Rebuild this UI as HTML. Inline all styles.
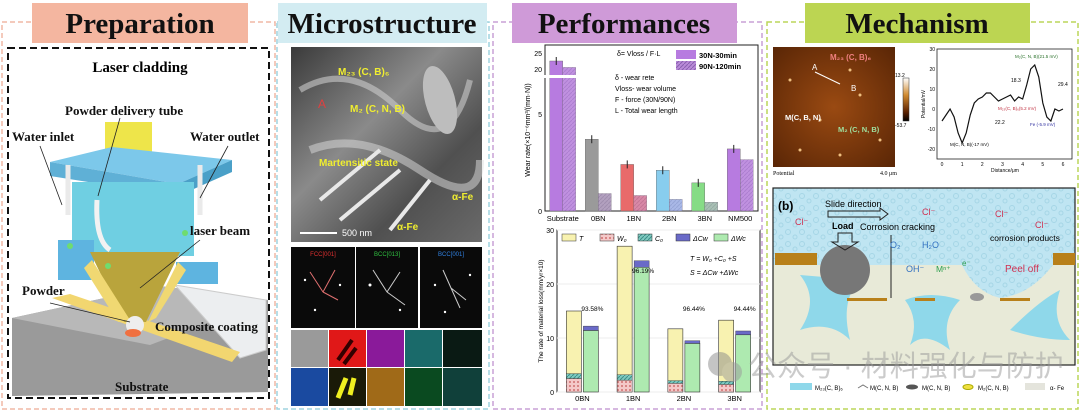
<!DOCTYPE html>
<html><head><meta charset="utf-8"><style>
html,body{margin:0;padding:0;background:#fff;}
svg{display:block;font-family:"Liberation Sans",sans-serif;}
.ser{font-family:"Liberation Serif",serif;font-weight:bold;}
</style></head><body>
<svg id="root" width="1080" height="411" viewBox="0 0 1080 411">
<defs>
<pattern id="hatch" width="4" height="4" patternUnits="userSpaceOnUse"><rect width="4" height="4" fill="#b98bd8"/><path d="M0 4L4 0" stroke="#8a5fb0" stroke-width="1"/></pattern>
<pattern id="dots" width="4" height="4" patternUnits="userSpaceOnUse"><rect width="4" height="4" fill="#f4c8c8"/><circle cx="2" cy="2" r="1" fill="#d07070"/></pattern>
<pattern id="teal" width="4" height="4" patternUnits="userSpaceOnUse"><rect width="4" height="4" fill="#7fc9c0"/><path d="M0 4L4 0" stroke="#3d8f88" stroke-width="1"/></pattern>
<pattern id="bubble" width="14" height="12" patternUnits="userSpaceOnUse"><rect width="14" height="12" fill="#bfe5f2"/><circle cx="4" cy="4" r="2.5" fill="none" stroke="#a6d6e6" stroke-width="1"/><circle cx="11" cy="9" r="2" fill="none" stroke="#a6d6e6" stroke-width="1"/></pattern>
<radialGradient id="afm" cx="50%" cy="50%" r="70%"><stop offset="0" stop-color="#9a4a12"/><stop offset="1" stop-color="#5a2606"/></radialGradient>
<linearGradient id="cbar" x1="0" y1="0" x2="0" y2="1"><stop offset="0" stop-color="#fff"/><stop offset="0.4" stop-color="#d08a30"/><stop offset="0.8" stop-color="#5a2000"/><stop offset="1" stop-color="#000"/></linearGradient>
<linearGradient id="tem" x1="0" y1="0" x2="1" y2="1"><stop offset="0" stop-color="#3a3a3a"/><stop offset="0.4" stop-color="#8a8a8a"/><stop offset="0.7" stop-color="#505050"/><stop offset="1" stop-color="#6a6a6a"/></linearGradient>
</defs>

<rect x="2" y="22" width="273" height="387" fill="none" stroke="#f0b9a6" stroke-width="1.5" stroke-dasharray="5,3"/>
<rect x="277" y="22" width="212" height="387" fill="none" stroke="#9fd3df" stroke-width="1.5" stroke-dasharray="5,3"/>
<rect x="493" y="22" width="269" height="387" fill="none" stroke="#c9a0d6" stroke-width="1.5" stroke-dasharray="5,3"/>
<rect x="767" y="22" width="311" height="387" fill="none" stroke="#bcd55a" stroke-width="1.5" stroke-dasharray="5,3"/>

<g><rect x="32" y="3" width="216" height="40" fill="#f4b6a0"/><text class="ser" x="140" y="33" font-size="29" text-anchor="middle" fill="#111">Preparation</text></g>
<g><rect x="278" y="3" width="209" height="40" fill="#d3ecf2"/><text class="ser" x="382" y="33" font-size="29" text-anchor="middle" fill="#111">Microstructure</text></g>
<g><rect x="512" y="3" width="225" height="40" fill="#cf9ad8"/><text class="ser" x="624" y="33" font-size="29" text-anchor="middle" fill="#111">Performances</text></g>
<g><rect x="805" y="3" width="225" height="40" fill="#bcd552"/><text class="ser" x="917" y="33" font-size="29" text-anchor="middle" fill="#111">Mechanism</text></g>

<g>
<rect x="8" y="48" width="261" height="350" fill="#fff" stroke="#111" stroke-width="2" stroke-dasharray="7,4"/>
<text class="ser" x="140" y="72" font-size="15" text-anchor="middle">Laser cladding</text>
<polygon points="12,318 160,286 268,300 268,392 12,396" fill="#9a9a9a"/>
<polygon points="12,318 160,286 268,300 150,345" fill="#b8b8b8"/>
<polygon points="175,285 266,300 266,350 240,358" fill="#eceef0" stroke="#ccc"/>
<polygon points="52,298 70,294 240,352 232,362" fill="#f2d670"/>
<rect x="105" y="122" width="47" height="36" fill="#eee54a"/>
<polygon points="50,162 112,147 232,160 178,184" fill="#7cc8ea"/>
<polygon points="50,162 178,184 178,196 50,176" fill="#5fb0d6"/>
<polygon points="178,184 232,160 232,172 178,196" fill="#4aa0c8"/>
<rect x="72" y="182" width="122" height="74" fill="#6fcfe2"/>
<rect x="58" y="240" width="36" height="40" fill="#5eb4e0"/>
<rect x="176" y="262" width="42" height="22" fill="#5eb4e0"/>
<polygon points="90,252 180,252 146,322 124,322" fill="#b9a43c"/>
<polygon points="92,260 130,320 118,322 84,268" fill="#f0d872"/>
<polygon points="178,262 148,322 156,318 186,270" fill="#f0d872"/>
<circle cx="135" cy="325" r="9" fill="#eeeeee"/>
<ellipse cx="133" cy="333" rx="8" ry="4" fill="#f07040"/>
<path d="M68 215 V165" stroke="#eaeaea" stroke-width="5"/><path d="M200 215 V165" stroke="#eaeaea" stroke-width="5"/>
<path d="M97 200 Q95 240 110 250" stroke="#f2f2f2" stroke-width="5" fill="none"/>
<circle cx="70" cy="246" r="3" fill="#6fdc6f"/><circle cx="185" cy="233" r="3" fill="#6fdc6f"/><circle cx="108" cy="266" r="3" fill="#6fdc6f"/>
<g class="ser" font-size="13" fill="#111">
<text x="65" y="115">Powder delivery tube</text>
<text x="12" y="141">Water inlet</text>
<text x="190" y="141">Water outlet</text>
<text x="190" y="235">laser beam</text>
<text x="22" y="295">Powder</text>
<text x="155" y="331">Composite coating</text>
<text x="115" y="391">Substrate</text>
</g>
<g stroke="#222" stroke-width="0.8" fill="none">
<line x1="120" y1="118" x2="98" y2="196"/><line x1="40" y1="146" x2="62" y2="205"/><line x1="228" y1="146" x2="200" y2="198"/><line x1="200" y1="240" x2="140" y2="288"/><line x1="50" y1="303" x2="130" y2="322"/>
</g>
</g>

<g>
<rect x="291" y="47" width="191" height="195" fill="url(#tem)"/>
<path d="M300 90 Q350 60 400 110 T470 80" stroke="#ccc" stroke-width="6" fill="none" opacity=".6"/>
<path d="M310 150 Q360 130 420 170 T480 160" stroke="#ddd" stroke-width="8" fill="none" opacity=".5"/>
<ellipse cx="440" cy="100" rx="15" ry="35" fill="#bdbdbd" transform="rotate(-15 440 100)"/>
<path d="M320 200 L380 150 M340 220 L400 170 M390 230 L430 180" stroke="#e8e8e8" stroke-width="4"/>
<g font-size="10" fill="#f0ee30" font-weight="bold">
<text x="338" y="75">M₂₃ (C, B)₆</text><text x="350" y="112">M₂ (C, N, B)</text><text x="319" y="166">Martensitic state</text><text x="452" y="200">α-Fe</text><text x="397" y="230">α-Fe</text>
</g>
<text x="318" y="108" font-size="12" fill="#e04040">A</text>
<line x1="300" y1="233" x2="337" y2="233" stroke="#fff" stroke-width="2"/><text x="342" y="236" font-size="9" fill="#fff">500 nm</text>
</g>
<g>
<rect x="291" y="247" width="64" height="81" fill="#0a0a0a"/><rect x="356" y="247" width="62" height="81" fill="#0a0a0a"/><rect x="420" y="247" width="62" height="81" fill="#0a0a0a"/>
<text x="323" y="256" font-size="6" fill="#e03030" text-anchor="middle">FCC[001]</text>
<text x="387" y="256" font-size="6" fill="#30c040" text-anchor="middle">BCC[013]</text>
<text x="451" y="256" font-size="6" fill="#3080e0" text-anchor="middle">BCC[001]</text>
<path d="M323 292 L310 272 M323 292 L335 270 M323 292 L338 300" stroke="#e07070"/>
<path d="M387 292 L373 270 M387 292 L400 272 M387 292 L405 305" stroke="#ccc"/>
<path d="M451 288 L443 270 M451 288 L466 300 M451 288 L460 308" stroke="#ccc"/>
<g fill="#fff"><circle cx="305" cy="280" r="1.2"/><circle cx="340" cy="285" r="1.2"/><circle cx="315" cy="310" r="1.2"/><circle cx="370" cy="285" r="1.5"/><circle cx="400" cy="310" r="1.2"/><circle cx="435" cy="285" r="1.2"/><circle cx="470" cy="275" r="1.2"/><circle cx="445" cy="312" r="1.2"/></g>
</g>
<g>
<rect x="291" y="330" width="37" height="37" fill="#9a9a9a"/><rect x="329" y="330" width="37" height="37" fill="#e01818"/><rect x="367" y="330" width="37" height="37" fill="#8a1a9a"/><rect x="405" y="330" width="37" height="37" fill="#1a6a6a"/><rect x="443" y="330" width="39" height="37" fill="#0a1a14"/>
<rect x="291" y="368" width="37" height="38" fill="#1a4aa0"/><rect x="329" y="368" width="37" height="38" fill="#1a1a08"/><rect x="367" y="368" width="37" height="38" fill="#a06a18"/><rect x="405" y="368" width="37" height="38" fill="#0a4a20"/><rect x="443" y="368" width="39" height="38" fill="#10403a"/>
<path d="M338 360 L352 340 M344 364 L356 348" stroke="#300" stroke-width="4"/><path d="M338 398 L346 378 M350 395 L354 378" stroke="#f0f020" stroke-width="5"/>
</g>

<g id="wearChart"></g>
<g id="lossChart"></g>

<g>
<rect x="773" y="47" width="122" height="120" fill="url(#afm)"/>
<g fill="#f0c080"><circle cx="790" cy="80" r="1.5"/><circle cx="820" cy="120" r="1.5"/><circle cx="860" cy="95" r="1.5"/><circle cx="880" cy="140" r="1.5"/><circle cx="800" cy="150" r="1.5"/><circle cx="850" cy="70" r="1.5"/><circle cx="840" cy="155" r="1.5"/></g>
<line x1="815" y1="72" x2="840" y2="84" stroke="#fff"/>
<text x="812" y="70" font-size="8" fill="#fff">A</text><text x="851" y="91" font-size="8" fill="#fff">B</text>
<text x="830" y="60" font-size="8" fill="#f08080" font-weight="bold">M₂₃ (C, B)₆</text>
<text x="785" y="120" font-size="7.5" fill="#fff" font-weight="bold">M(C, B, N)</text>
<text x="838" y="132" font-size="7.5" fill="#9fe09f" font-weight="bold">M₂ (C, N, B)</text>
<text x="773" y="175" font-size="6" font-family="Liberation Serif">Potential</text><text x="880" y="175" font-size="6" font-family="Liberation Serif">4.0 μm</text>
<rect x="903" y="78" width="6" height="43" fill="url(#cbar)" stroke="#333" stroke-width=".5"/>
<text x="895" y="77" font-size="5">13.2</text><text x="895" y="127" font-size="5">-53.7</text>
</g>
<g id="potChart"></g>

<g>
<rect x="773" y="188" width="302" height="77" fill="url(#bubble)"/>
<rect x="773" y="265" width="302" height="100" fill="#e8ead8"/>
<rect x="773" y="188" width="302" height="177" fill="none" stroke="#222" stroke-width="1.2"/>
<rect x="775" y="253" width="42" height="12" fill="#b8801a"/><rect x="1053" y="253" width="22" height="12" fill="#b8801a"/>
<path d="M800 275 Q820 300 800 330 Q830 320 850 340 Q840 300 860 280 Z" fill="#8fd8ea"/>
<path d="M905 300 Q930 290 960 300 Q940 320 950 350 Q925 330 910 345 Q920 320 905 300Z" fill="#8fd8ea"/>
<path d="M1010 330 Q1040 300 1060 290 Q1050 320 1070 340 Q1040 340 1010 330Z" fill="#8fd8ea"/>
<path d="M962 265 Q990 262 1053 258 L1053 265 Q1030 295 1000 298 Q975 292 962 265Z" fill="url(#bubble)"/>
<circle cx="845" cy="270" r="25" fill="#777"/>
<rect x="847" y="298" width="40" height="3" fill="#b8801a"/><rect x="915" y="298" width="20" height="3" fill="#b8801a"/><rect x="1000" y="298" width="30" height="3" fill="#b8801a"/>
<ellipse cx="977" cy="297" rx="7" ry="4" fill="#999"/>
<text x="778" y="210" font-size="12" font-weight="bold">(b)</text>
<text x="825" y="207" font-size="9">Slide direction</text>
<path d="M828 211 H880 V208 L888 214 L880 220 V217 H828Z" fill="none" stroke="#222"/>
<text x="832" y="229" font-size="9" font-weight="bold">Load</text>
<text x="860" y="230" font-size="9">Corrosion cracking</text>
<path d="M838 233 H852 V242 H858 L845 250 L832 242 H838Z" fill="none" stroke="#222"/>
<line x1="891" y1="235" x2="891" y2="298" stroke="#222"/>
<text x="795" y="225" font-size="9" fill="#d03050">Cl⁻</text><text x="922" y="215" font-size="9" fill="#d03050">Cl⁻</text><text x="995" y="217" font-size="9" fill="#d03050">Cl⁻</text><text x="1035" y="228" font-size="9" fill="#d03050">Cl⁻</text>
<text x="990" y="241" font-size="8.5">corrosion products</text>
<text x="890" y="248" font-size="9" fill="#3070c0">O₂</text><text x="922" y="248" font-size="9" fill="#3070c0">H₂O</text>
<text x="906" y="272" font-size="9" fill="#3070c0">OH⁻</text>
<text x="936" y="272" font-size="8.5" fill="#30a050">Mⁿ⁺</text><text x="962" y="266" font-size="8" fill="#30a050">e⁻</text>
<text x="1005" y="272" font-size="10" fill="#d03050">Peel off</text>
</g>
<g font-size="6">
<rect x="790" y="383" width="22" height="7" fill="#8fd8ea"/><text x="815" y="390">M₂₃(C, B)₆</text>
<path d="M858 388 l5 -3 l5 3" stroke="#777" fill="none"/><text x="870" y="390">M(C, N, B)</text>
<ellipse cx="912" cy="387" rx="6" ry="2.5" fill="#555"/><text x="922" y="390">M(C, N, B)</text>
<ellipse cx="968" cy="387" rx="5" ry="2.5" fill="#f0e040" stroke="#aa0"/><text x="978" y="390">M₂(C, N, B)</text>
<rect x="1025" y="383" width="20" height="7" fill="#e4e4dc"/><text x="1050" y="390">α- Fe</text>
</g>
<g opacity=".5">
<circle cx="720" cy="364" r="12" fill="#8a8a8a"/><circle cx="732" cy="372" r="10" fill="#9a9a9a"/>
<text x="748" y="376" font-size="29" fill="#999" font-family="'Liberation Sans','Noto Sans CJK SC',sans-serif">公众号 · 材料强化与防护</text>
</g>
</svg>

<script>
const NS="http://www.w3.org/2000/svg";
function mk(tag,attrs,parent,txt){const e=document.createElementNS(NS,tag);for(const k in attrs)e.setAttribute(k,attrs[k]);if(txt!==undefined)e.textContent=txt;parent.appendChild(e);return e;}

const wearCats=["Substrate","0BN","1BN","2BN","3BN","NM500"];
const wear30=[22.5,3.7,2.4,2.1,1.45,3.2];
const wear90=[20.5,0.9,0.8,0.6,0.45,2.65];
const wearTicksLow=[0,5];
const wearTicksHigh=[20,25];
const wearColors=["#b77be0","#9a9a9a","#e86a6a","#88cdee","#86dc86","#b77be0"];

const lossCats=["0BN","1BN","2BN","3BN"];
const lossT=[15,27,11.7,13.3];
const lossW0=[2.5,2.2,1.6,1.4];
const lossC0=[0.9,1.0,0.5,0.6];
const lossDWc=[11.4,23.1,9.0,10.6];
const lossDCw=[0.8,1.2,0.5,0.7];
const lossPct=["93.58%","96.19%","96.44%","94.44%"];
const lossTicks=[0,10,20,30];

const potX=[0,0.2,0.4,0.6,0.8,1.0,1.2,1.4,1.6,1.8,2.0,2.2,2.4,2.6,2.8,3.0,3.2,3.4,3.6,3.8,4.0,4.2,4.4,4.6,4.8,5.0,5.2,5.4,5.6,5.8,6.0];
const potY=[-6,-3,0,-4,-12,-17,-12,-3,3,5,6,8,8,6,4,5,6,7,4,6,5,12,20,22,16,3,-4,-6,0,-1,0];
const potTicksY=[-20,-10,0,10,20,30];
const potTicksX=[0,1,2,3,4,5,6];

(function(){
  const g=document.getElementById('wearChart');
  const x0=545,x1=758,yBase=211;
  const yLow=v=>yBase-v*19.4;
  const yHigh=v=>69-(v-20)*3.2;
  const yv=v=>v>=15?yHigh(v):yLow(v);
  const step=(x1-x0)/wearCats.length;
  const cx=i=>x0+step*(i+0.5);
  mk('rect',{x:x0,y:45,width:x1-x0,height:yBase-45,fill:'none',stroke:'#222'},g);
  wearTicksLow.forEach(t=>{const l=mk('text',{x:x0-3,y:yLow(t)+3,'font-size':7,'text-anchor':'end'},g,t);});
  wearTicksHigh.forEach(t=>{const l=mk('text',{x:x0-3,y:yHigh(t)+3,'font-size':7,'text-anchor':'end'},g,t);});
  const bw=13;
  wearCats.forEach((c,i)=>{
    const col=wearColors[i];
    const a=mk('rect',{x:cx(i)-bw,y:yv(wear30[i]),width:bw,height:yBase-yv(wear30[i]),fill:col,stroke:'#666','stroke-width':0.4},g);
    
    
    const b=mk('rect',{x:cx(i),y:yv(wear90[i]),width:bw,height:yBase-yv(wear90[i]),fill:col,opacity:0.8,stroke:'#666','stroke-width':0.4},g);
    
    
    mk('rect',{x:cx(i),y:yv(wear90[i]),width:bw,height:yBase-yv(wear90[i]),fill:'url(#hatch)',opacity:0.4},g);
    mk('line',{x1:cx(i)-bw/2,y1:yv(wear30[i])-4,x2:cx(i)-bw/2,y2:yv(wear30[i])+4,stroke:'#222'},g);
    const l=mk('text',{x:cx(i),y:yBase+10,'font-size':7.5,'text-anchor':'middle'},g,c);
    
    
  });
  mk('rect',{x:x0-4,y:75,width:36,height:3,fill:'#fff'},g);
  const yt=mk('text',{x:0,y:0,'font-size':7,'text-anchor':'middle',transform:`translate(${x0-15},130) rotate(-90)`},g,'Wear rate(×10⁻⁶mm³/(mm·N))');
  
  
  mk('text',{x:617,y:56,'font-size':7},g,'δ= Vloss / F·L');
  mk('text',{x:615,y:80,'font-size':7},g,'δ   - wear rete');
  mk('text',{x:615,y:91,'font-size':7},g,'Vloss- wear volume');
  mk('text',{x:615,y:102,'font-size':7},g,'F   - force (30N/90N)');
  mk('text',{x:615,y:113,'font-size':7},g,'L   - Total wear length');
  mk('rect',{x:676,y:50,width:20,height:9,fill:'#b77be0'},g);
  mk('text',{x:699,y:58,'font-size':7.5,'font-weight':'bold'},g,'30N-30min');
  mk('rect',{x:676,y:61,width:20,height:9,fill:'url(#hatch)'},g);
  mk('text',{x:699,y:69,'font-size':7.5,'font-weight':'bold'},g,'90N-120min');
})();

(function(){
  const g=document.getElementById('lossChart');
  const x0=557,x1=760,y0=392,yT=230;
  const y=v=>y0-v*(y0-yT)/30;
  const step=(x1-x0)/lossCats.length;
  const cx=i=>x0+step*(i+0.5);
  mk('rect',{x:x0,y:yT,width:x1-x0,height:y0-yT,fill:'none',stroke:'#222'},g);
  lossTicks.forEach(t=>{mk('line',{x1:x0,y1:y(t),x2:x1,y2:y(t),stroke:'#eee'},g);
    const l=mk('text',{x:x0-3,y:y(t)+3,'font-size':7,'text-anchor':'end'},g,t);
    
    });
  const bw=15;
  lossCats.forEach((c,i)=>{
    const xl=cx(i)-bw-1,xr=cx(i)+1;
    const t=mk('rect',{x:xl,y:y(lossT[i]),width:bw,height:y0-y(lossT[i]),fill:'#f8f2b0',stroke:'#333','stroke-width':0.6},g);
    
    
    const w=mk('rect',{x:xl,y:y(lossW0[i]),width:bw,height:y0-y(lossW0[i]),fill:'url(#dots)',stroke:'#333','stroke-width':0.4},g);
    
    
    const cc=mk('rect',{x:xl,y:y(lossW0[i]+lossC0[i]),width:bw,height:y(lossW0[i])-y(lossW0[i]+lossC0[i]),fill:'url(#teal)',stroke:'#333','stroke-width':0.4},g);
    
    
    const d=mk('rect',{x:xr,y:y(lossDWc[i]),width:bw,height:y0-y(lossDWc[i]),fill:'#aeeab0',stroke:'#333','stroke-width':0.6},g);
    
    
    const e=mk('rect',{x:xr,y:y(lossDWc[i]+lossDCw[i]),width:bw,height:y(lossDWc[i])-y(lossDWc[i]+lossDCw[i]),fill:'#6a6ac8',stroke:'#333','stroke-width':0.4},g);
    
    
    const p=mk('text',{x:cx(i)+10,y:y(lossT[i]>20?22:15),'font-size':6.5,'text-anchor':'middle'},g,lossPct[i]);
    
    
    const l=mk('text',{x:cx(i),y:y0+9,'font-size':7.5,'text-anchor':'middle'},g,c);
    
    
  });
  const yt=mk('text',{x:0,y:0,'font-size':6.5,'text-anchor':'middle',transform:`translate(${x0-14},311) rotate(-90)`},g,'The rate of material loss(mm/yr×10)');
  
  
  const leg=[['#f8f2b0','T'],['url(#dots)','W₀'],['url(#teal)','C₀'],['#6a6ac8','ΔCw'],['#aeeab0','ΔWc']];
  leg.forEach((L,k)=>{const lx=562+k*38;mk('rect',{x:lx,y:234,width:14,height:7,fill:L[0],stroke:'#333','stroke-width':0.5},g);mk('text',{x:lx+17,y:241,'font-size':7,'font-style':'italic'},g,L[1]);});
  mk('text',{x:690,y:261,'font-size':7,'font-style':'italic'},g,'T = W₀ +C₀ +S');
  mk('text',{x:690,y:275,'font-size':7,'font-style':'italic'},g,'S = ΔCw +ΔWc');
})();

(function(){
  const g=document.getElementById('potChart');
  const x0=937,x1=1072,y0=159,yT=49;
  const xs=v=>x0+5+v*(x1-x0-10)/6.2;
  const ys=v=>y0-(v+25)*(y0-yT)/55;
  mk('rect',{x:x0,y:yT,width:x1-x0,height:y0-yT,fill:'#fff',stroke:'#222','stroke-width':0.8},g);
  potTicksY.forEach(t=>{const l=mk('text',{x:x0-2,y:ys(t)+2,'font-size':5,'text-anchor':'end'},g,t);});
  potTicksX.forEach(t=>{const l=mk('text',{x:xs(t),y:y0+7,'font-size':5,'text-anchor':'middle'},g,t);});
  const pts=potX.map((v,i)=>xs(v)+','+ys(potY[i])).join(' ');
  const pl=mk('polyline',{points:pts,fill:'none',stroke:'#111','stroke-width':1.2},g);
  
  
  mk('text',{x:1005,y:172,'font-size':5,'text-anchor':'middle'},g,'Distance/μm');
  mk('text',{x:0,y:0,'font-size':5,'text-anchor':'middle',transform:`translate(${x0-12},104) rotate(-90)`},g,'Potential/mV');
  mk('text',{x:1015,y:58,'font-size':4.5,fill:'#287028'},g,'M₂(C, N, B)(21.5 mV)');
  mk('text',{x:998,y:110,'font-size':4.5,fill:'#c03040'},g,'M₂₃(C, B)₆(5.2 mV)');
  mk('text',{x:1030,y:126,'font-size':4.5,fill:'#3030a0'},g,'Fe (-5.9 mV)');
  mk('text',{x:950,y:146,'font-size':4.5},g,'M(C, N, B)(-17 mV)');
  mk('text',{x:1011,y:82,'font-size':5},g,'18.3');mk('text',{x:1058,y:86,'font-size':5},g,'29.4');mk('text',{x:995,y:124,'font-size':5},g,'22.2');
})();
</script>
</body></html>
